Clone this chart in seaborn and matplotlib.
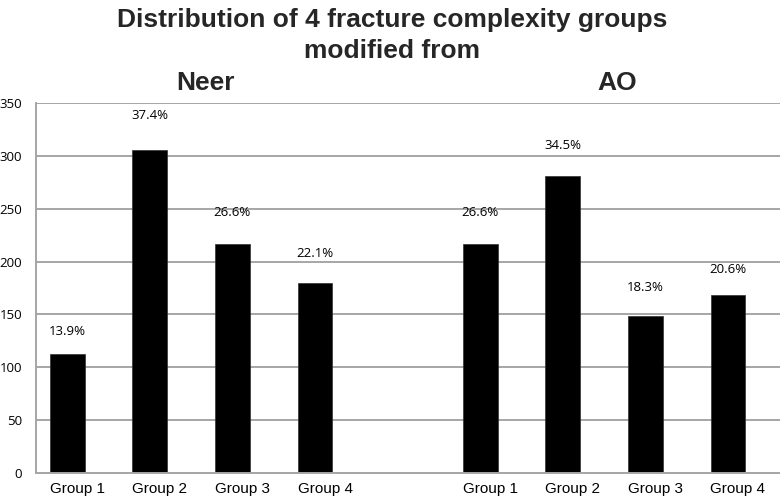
import matplotlib
matplotlib.use("Agg")
import matplotlib.pyplot as plt
import matplotlib.transforms as mtransforms
import seaborn as sns
import pandas as pd

# ---- data ----
systems = ["Neer", "AO"]
groups = ["Group 1", "Group 2", "Group 3", "Group 4"]
neer_counts = [113, 305, 217, 180]
ao_counts = [217, 281, 149, 168]
neer_pct = [13.9, 37.4, 26.6, 22.1]
ao_pct = [26.6, 34.5, 18.3, 20.6]
title_lines = ["Distribution of 4 fracture complexity groups", "modified from"]
y_ticks = [0, 50, 100, 150, 200, 250, 300, 350]

rows = []
for g, c, p in zip(groups, neer_counts, neer_pct):
    rows.append({"key": "Neer " + g, "group": g, "count": c, "pct": p})
for g, c, p in zip(groups, ao_counts, ao_pct):
    rows.append({"key": "AO " + g, "group": g, "count": c, "pct": p})
df = pd.DataFrame(rows)
order = ["Neer " + g for g in groups] + ["gap"] + ["AO " + g for g in groups]

sns.set_theme(style="white")
plt.rcParams["font.family"] = ["Open Sans", "DejaVu Sans"]

W, H = 780, 500
fig = plt.figure(figsize=(W / 100, H / 100), dpi=100)
ax = fig.add_axes([36 / W, (H - 473.3) / H, (W - 36) / W, (473.3 - 102.7) / H])

sns.barplot(data=df, x="key", y="count", order=order, color="black",
            width=0.42, saturation=1, edgecolor="#303030", linewidth=0.5, ax=ax)

ax.set_ylim(0, 350)
ax.set_xlim(-0.378, 8.63)
ax.set_yticks(y_ticks)
ax.set_yticklabels([str(v) for v in y_ticks], fontsize=9.5, color="black")
ax.yaxis.grid(True, color="#a6a6a6", linewidth=1.4)
ax.set_axisbelow(True)
for s in ["top", "right"]:
    ax.spines[s].set_visible(False)
for s in ["left", "bottom"]:
    ax.spines[s].set_color("#a6a6a6")
    ax.spines[s].set_linewidth(1.4)
ax.tick_params(axis="both", length=0)
ax.tick_params(axis="y", pad=10)
ax.set_xlabel("")
ax.set_ylabel("")

# x tick labels (skip the gap slot)
pos = [0, 1, 2, 3, 5, 6, 7, 8]
ax.set_xticks(pos)
xfam = ["Liberation Sans Narrow", "Liberation Sans", "DejaVu Sans"]
ax.set_xticklabels(groups + groups, family=xfam, fontsize=11, color="black")
ax.tick_params(axis="x", pad=6)
offset = mtransforms.ScaledTranslation(10 / 100, 0, fig.dpi_scale_trans)
for lab in ax.get_xticklabels():
    lab.set_transform(lab.get_transform() + offset)

# percent labels
label_offsets_px = [22, 35, 31, 29, 31, 30, 28, 26]
all_counts = neer_counts + ao_counts
all_pct = neer_pct + ao_pct
for x, c, p, off in zip(pos, all_counts, all_pct, label_offsets_px):
    ax.annotate(f"{p:.1f}%", xy=(x, c), xytext=(0, off * 0.72), textcoords="offset points",
                ha="center", va="center", fontsize=9.5, color="black")

# titles
tfam = ["Liberation Sans Narrow", "Liberation Sans", "DejaVu Sans"]
tsize = 19
fig.text(392 / W, 1 - 27.5 / H, title_lines[0], ha="center", va="baseline",
         fontsize=tsize, fontweight="bold", family=tfam)
fig.text(392 / W, 1 - 58 / H, title_lines[1], ha="center", va="baseline",
         fontsize=tsize, fontweight="bold", family=tfam)
fig.text(205 / W, 1 - 90 / H, systems[0], ha="center", va="baseline",
         fontsize=tsize, fontweight="bold", family=tfam)
fig.text(617 / W, 1 - 90 / H, systems[1], ha="center", va="baseline",
         fontsize=tsize, fontweight="bold", family=tfam)

fig.savefig("out.png", dpi=100)
